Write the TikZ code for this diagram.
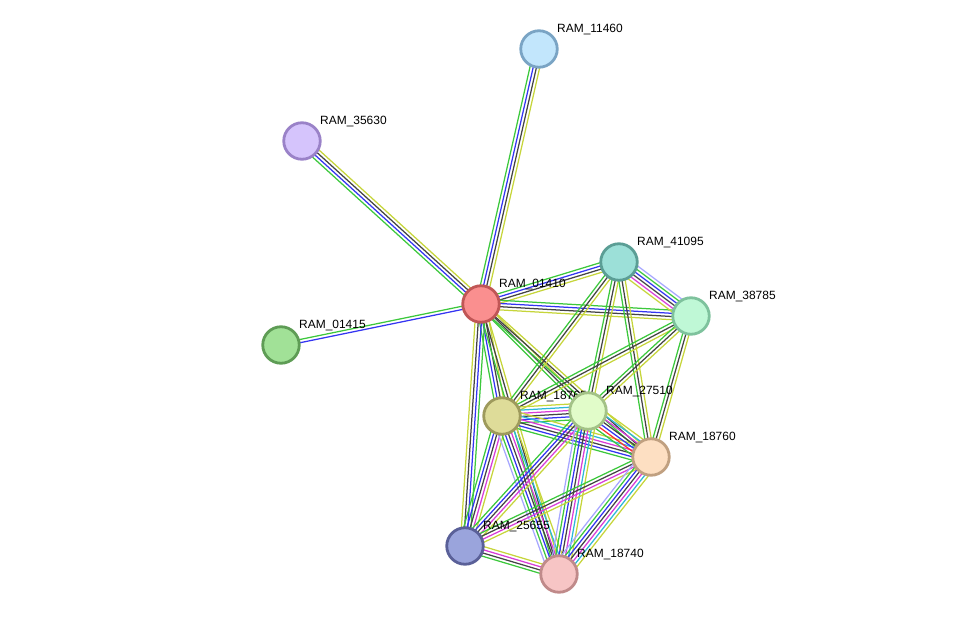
\documentclass[tikz,border=0pt]{standalone}
\usepackage{fontspec}
\setmainfont{Liberation Sans}
\usetikzlibrary{calc}
\pgfdeclarelayer{edges}
\pgfdeclarelayer{labels}
\pgfsetlayers{edges,labels,main}

% evidence channel colours
\definecolor{eHom}{HTML}{A6A6FF}
\definecolor{eNei}{HTML}{3CC83C}
\definecolor{eFus}{HTML}{FF3030}
\definecolor{eCoo}{HTML}{3434F2}
\definecolor{eCex}{HTML}{444444}
\definecolor{eExp}{HTML}{D83CD8}
\definecolor{eDb}{HTML}{2CB8D8}
\definecolor{eTxt}{HTML}{C6D53A}

% protein colours (fill / rim)
\definecolor{fA}{HTML}{C2E6FC}\definecolor{bA}{HTML}{7AA4C4}
\definecolor{fB}{HTML}{D5C4FC}\definecolor{bB}{HTML}{9A82C8}
\definecolor{fC}{HTML}{A1E197}\definecolor{bC}{HTML}{5E9C55}
\definecolor{fD}{HTML}{FA8F8F}\definecolor{bD}{HTML}{C05656}
\definecolor{fE}{HTML}{9CE0D8}\definecolor{bE}{HTML}{5B9E95}
\definecolor{fF}{HTML}{BFF8D6}\definecolor{bF}{HTML}{7EC29D}
\definecolor{fG}{HTML}{DEDC99}\definecolor{bG}{HTML}{9E9A5C}
\definecolor{fH}{HTML}{E1FCC9}\definecolor{bH}{HTML}{A3C287}
\definecolor{fI}{HTML}{FDDFC2}\definecolor{bI}{HTML}{C0A080}
\definecolor{fJ}{HTML}{9AA4DC}\definecolor{bJ}{HTML}{5A6098}
\definecolor{fK}{HTML}{F7C5C5}\definecolor{bK}{HTML}{C08A8A}

\tikzset{
  protein/.style={circle, minimum size=36.5bp, inner sep=0pt, line width=2.8bp},
  plabel/.style={anchor=base west, inner sep=0pt, font=\fontsize{12}{14}\selectfont, text=black},
  strand/.style={line width=1.25bp}
}

% bundle of parallel coloured strands between two proteins
\newcommand\bundle[3]{%
  \foreach \cc [count=\nn] in {#3} {\xdef\bundlecount{\nn}}%
  \foreach \cc [count=\ii] in {#3} {%
    \pgfmathsetmacro\offs{(\ii-(\bundlecount+1)/2)*3.2}%
    \draw[strand, color=\cc] ($(#1)!\offs bp!90:(#2)$) -- ($(#2)!\offs bp!-90:(#1)$);
  }%
}

% protein with its name placed up and to the right
\newcommand\protein[5]{%
  \node[protein, fill=#4, draw=#5] (#1) at (#2) {};
  \begin{pgfonlayer}{labels}
    \node[plabel] (#1l) at ($(#2)+(18,-16.5)$) {#3};
  \end{pgfonlayer}
}

\begin{document}
\begin{tikzpicture}[x=1bp, y=-1bp]
\useasboundingbox (0,0) rectangle (976,620);

\protein{p11460}{539,49}{RAM\_11460}{fA}{bA}
\protein{p35630}{302,141}{RAM\_35630}{fB}{bB}
\protein{p01415}{281,345}{RAM\_01415}{fC}{bC}
\protein{p01410}{481,304}{RAM\_01410}{fD}{bD}
\protein{p41095}{619,262}{RAM\_41095}{fE}{bE}
\protein{p38785}{691,316}{RAM\_38785}{fF}{bF}
\protein{p18765}{502,416}{RAM\_18765}{fG}{bG}
\protein{p27510}{588,411}{RAM\_27510}{fH}{bH}
\protein{p18760}{651,457}{RAM\_18760}{fI}{bI}
\protein{p25655}{465,546}{RAM\_25655}{fJ}{bJ}
\protein{p18740}{559,574}{RAM\_18740}{fK}{bK}

\begin{pgfonlayer}{edges}
\bundle{p01410}{p11460}{eTxt,eCex,eCoo,eNei}
\bundle{p01410}{p35630}{eTxt,eCex,eCoo,eNei}
\bundle{p01410}{p01415}{eNei,eCoo}
\bundle{p01410}{p41095}{eTxt,eCex,eCoo,eNei}
\bundle{p01410}{p38785}{eTxt,eCex,eCoo,eNei}
\bundle{p01410}{p18765}{eNei,eCoo,eCex,eTxt}
\bundle{p01410}{p27510}{eNei,eCex,eTxt}
\bundle{p01410}{p18760}{eNei,eCex,eTxt}
\bundle{p01410}{p25655}{eTxt,eCex,eCoo,eNei}
\bundle{p01410}{p18740}{eNei,eCex,eTxt}
\bundle{p38785}{p41095}{eHom,eNei,eCoo,eCex,eExp,eTxt}
\bundle{p41095}{p18765}{eNei,eCex,eTxt}
\bundle{p41095}{p27510}{eNei,eCex,eTxt}
\bundle{p41095}{p18760}{eNei,eCex,eTxt}
\bundle{p38785}{p18765}{eNei,eCex,eTxt}
\bundle{p38785}{p27510}{eNei,eCex,eTxt}
\bundle{p38785}{p18760}{eNei,eCex,eTxt}
\bundle{p18765}{p27510}{eNei,eCoo,eCex,eExp,eDb,eTxt}
\bundle{p18765}{p18760}{eNei,eCoo,eCex,eExp,eDb,eTxt}
\bundle{p27510}{p18760}{eNei,eFus,eCoo,eCex,eExp,eDb,eTxt}
\bundle{p18765}{p25655}{eNei,eCoo,eCex,eExp,eTxt}
\bundle{p18765}{p18740}{eHom,eNei,eCoo,eCex,eExp,eDb,eTxt}
\bundle{p27510}{p25655}{eNei,eCoo,eCex,eExp,eTxt}
\bundle{p27510}{p18740}{eHom,eNei,eCoo,eCex,eExp,eDb,eTxt}
\bundle{p18760}{p25655}{eNei,eCex,eExp,eTxt}
\bundle{p18760}{p18740}{eHom,eNei,eCoo,eCex,eExp,eDb,eTxt}
\bundle{p25655}{p18740}{eNei,eCex,eExp,eTxt}
\end{pgfonlayer}
\end{tikzpicture}
\end{document}
